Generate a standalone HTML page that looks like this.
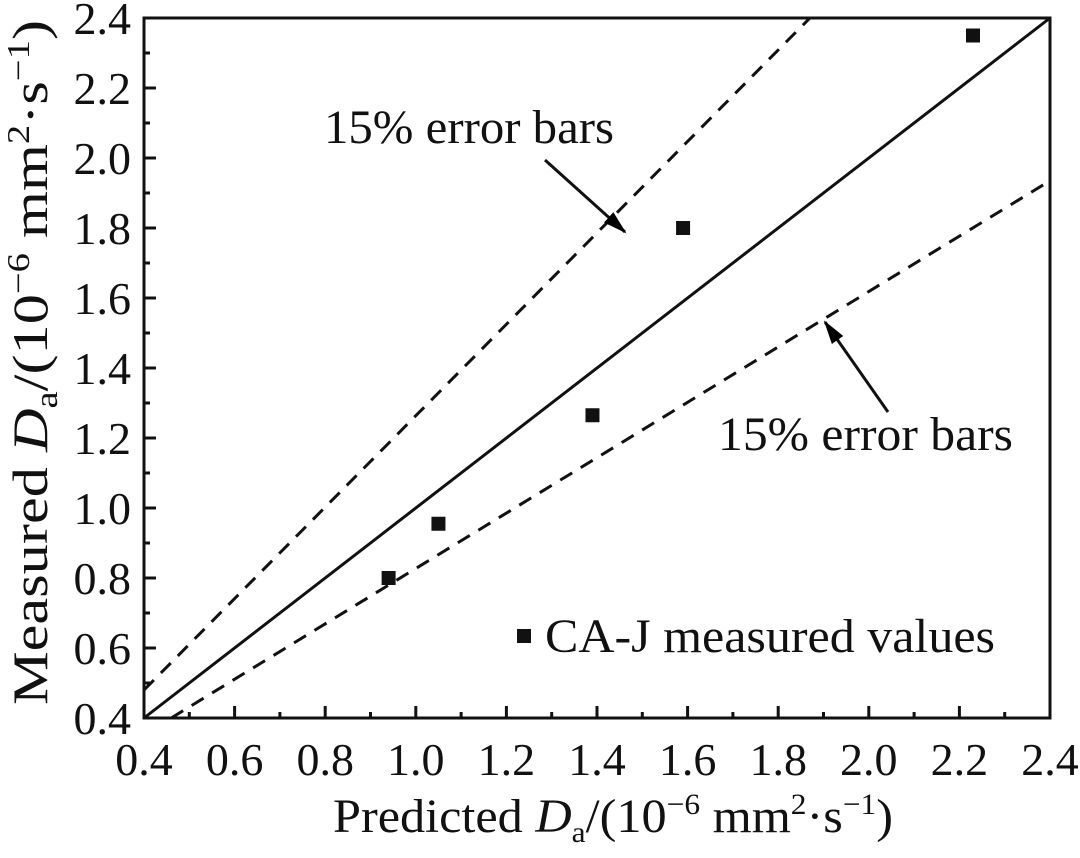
<!DOCTYPE html>
<html><head><meta charset="utf-8"><style>
body{margin:0;background:#fff}
svg text{font-family:"Liberation Serif",serif;fill:#111}
</style></head><body>
<svg id="chart" width="1080" height="853" viewBox="0 0 1080 853" xmlns="http://www.w3.org/2000/svg">
<defs><marker id="ah" markerWidth="24" markerHeight="14" refX="22" refY="7" orient="auto" markerUnits="userSpaceOnUse"><path d="M0,0 L24,7 L0,14 z"/></marker></defs>
<g id="ticks"></g>
<g id="lines"></g>
<g id="points"></g>
<rect x="144" y="18" width="906" height="700" fill="none" stroke="#111" stroke-width="3"/>
<g>
<rect x="517" y="629" width="14" height="14" fill="#111"/>
<text x="545" y="652" font-size="48" textLength="450" lengthAdjust="spacingAndGlyphs">CA-J measured values</text>
</g>
<text x="324" y="143" font-size="48" textLength="290" lengthAdjust="spacingAndGlyphs">15% error bars</text>
<line x1="545" y1="160" x2="625" y2="232" stroke="#111" stroke-width="3" marker-end="url(#ah)"/>
<text x="718" y="450" font-size="48" textLength="295" lengthAdjust="spacingAndGlyphs">15% error bars</text>
<line x1="888" y1="412" x2="825" y2="322" stroke="#111" stroke-width="3" marker-end="url(#ah)"/>
<text x="333" y="832" font-size="48" textLength="560" lengthAdjust="spacingAndGlyphs">Predicted <tspan font-style="italic">D</tspan><tspan font-size="30" dy="10">a</tspan><tspan dy="-10">/(10</tspan><tspan font-size="30" dy="-18">−6</tspan><tspan dy="18"> mm</tspan><tspan font-size="30" dy="-18">2</tspan><tspan dy="18">·s</tspan><tspan font-size="30" dy="-18">−1</tspan><tspan dy="18">)</tspan></text>
<text transform="translate(47,705) rotate(-90)" font-size="50" textLength="685" lengthAdjust="spacingAndGlyphs">Measured <tspan font-style="italic">D</tspan><tspan font-size="32" dy="10">a</tspan><tspan dy="-10">/(10</tspan><tspan font-size="32" dy="-18">−6</tspan><tspan dy="18"> mm</tspan><tspan font-size="32" dy="-18">2</tspan><tspan dy="18">·s</tspan><tspan font-size="32" dy="-18">−1</tspan><tspan dy="18">)</tspan></text>
</svg>
<script>
const tickValues=[0.4,0.6,0.8,1.0,1.2,1.4,1.6,1.8,2.0,2.2,2.4];
const tickLabels=["0.4","0.6","0.8","1.0","1.2","1.4","1.6","1.8","2.0","2.2","2.4"];
const predicted=[0.94,1.05,1.39,1.59,2.23];
const measured=[0.80,0.955,1.265,1.80,2.35];
const parityX=[0.4,2.4];
const parityY=[0.4,2.4];
const upperX=[0.4,1.87];
const upperY=[0.48,2.4];
const lowerX=[0.46,2.4];
const lowerY=[0.4,1.935];
const NS="http://www.w3.org/2000/svg";
const sx=v=>144+(v-0.4)*453;
const sy=v=>718-(v-0.4)*350;
function mk(tag,attrs,parent){const e=document.createElementNS(NS,tag);for(const k in attrs)e.setAttribute(k,attrs[k]);document.getElementById(parent).appendChild(e);return e;}
tickValues.forEach((v,i)=>{
 let t=mk('line',{x1:sx(v),x2:sx(v),y1:718,y2:706,stroke:'#111','stroke-width':3},'ticks');
 
 
 t=mk('line',{x1:144,x2:156,y1:sy(v),y2:sy(v),stroke:'#111','stroke-width':3},'ticks');
 
 
 if(i<tickValues.length-1){const m=v+0.1;
  t=mk('line',{x1:sx(m),x2:sx(m),y1:718,y2:712,stroke:'#111','stroke-width':3},'ticks');
  
  
  t=mk('line',{x1:144,x2:150,y1:sy(m),y2:sy(m),stroke:'#111','stroke-width':3},'ticks');
  
  }
 let l=mk('text',{x:sx(v),y:775,'font-size':46,'text-anchor':'middle'},'ticks');l.textContent=tickLabels[i];
 
 
 l=mk('text',{x:131,y:sy(v)+16,'font-size':46,'text-anchor':'end'},'ticks');l.textContent=tickLabels[i];
 
 
});
function line(xs,ys,name,dash){const e=mk('line',{x1:sx(xs[0]),y1:sy(ys[0]),x2:sx(xs[1]),y2:sy(ys[1]),stroke:'#111','stroke-width':3,'stroke-dasharray':dash},'lines');
 
 }
line(parityX,parityY,'parity-line','none');
line(upperX,upperY,'upper-15pct-line','14 10');
line(lowerX,lowerY,'lower-15pct-line','14 10');
predicted.forEach((p,i)=>{const e=mk('rect',{x:sx(p)-7,y:sy(measured[i])-7,width:14,height:14,fill:'#111'},'points');
 
 });
</script>
</body></html>
